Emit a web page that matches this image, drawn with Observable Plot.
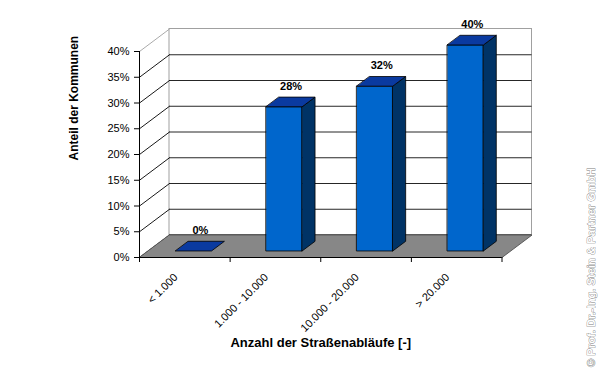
<!DOCTYPE html>
<html>
<head>
<meta charset="utf-8">
<script src="https://cdn.jsdelivr.net/npm/d3@7"></script>
<script src="https://cdn.jsdelivr.net/npm/@observablehq/plot@0.6"></script>
<style>
  html, body { margin: 0; padding: 0; background: #fff; }
  #chart { width: 600px; height: 371px; }
</style>
</head>
<body>
<div id="chart"></div>
<script>
// ---- data ----
const categories = ["< 1.000", "1.000 - 10.000", "10.000 - 20.000", "> 20.000"];
const values = [0, 28, 32, 40];
const valueLabels = ["0%", "28%", "32%", "40%"];
const yTicks = [0, 5, 10, 15, 20, 25, 30, 35, 40];
const yTickLabels = ["0%", "5%", "10%", "15%", "20%", "25%", "30%", "35%", "40%"];
const xTitle = "Anzahl der Straßenabläufe [-]";
const yTitle = "Anteil der Kommunen";
const credit = "© Prof. Dr.-Ing. Stein & Partner GmbH";

// ---- layout (pixels) ----
const W = 600, H = 371;
const plotLeft = 139, plotRight = 501.5, plotBottom = 257, plotTop = 51;
const n = categories.length;
const yMax = 40;
const bandPx = (plotRight - plotLeft) / n;
const pctPx = (plotBottom - plotTop) / yMax;
// 3D depth offset in data units
const DX = 30 / bandPx;
const DY = 22.5 / pctPx;
const BW = 36 / bandPx;      // bar width (band units)
const F0 = 0.29, F1 = 0.72;   // bar depth front/back fractions

// build polygons from the data
const faces = [];
values.forEach((v, i) => {
  const xl = i + 0.5 - BW / 2, xr = i + 0.5 + BW / 2;
  const p = (x, y, f) => ({x: x + f * DX, y: y + f * DY});
  const add = (type, pts) => pts.forEach(q => faces.push({id: type + i, type, ...q}));
  if (v > 0) {
    add("front", [p(xl, 0, F0), p(xr, 0, F0), p(xr, v, F0), p(xl, v, F0)]);
    add("side", [p(xr, 0, F0), p(xr, 0, F1), p(xr, v, F1), p(xr, v, F0)]);
  }
  add("top", [p(xl, v, F0), p(xr, v, F0), p(xr, v, F1), p(xl, v, F1)]);
});
const floorPts = [{x: 0, y: 0}, {x: n, y: 0}, {x: n + DX, y: DY}, {x: DX, y: DY}];
const labelData = values.map((v, i) => ({x: i + 0.5 + 0.52 * DX, y: v + F1 * DY, t: valueLabels[i]}));

const font = "'Liberation Sans', Arial, sans-serif";

const chart = Plot.plot({
  width: W, height: H,
  marginLeft: plotLeft, marginRight: W - plotRight, marginTop: plotTop, marginBottom: H - plotBottom,
  x: {domain: [0, n]},
  y: {domain: [0, yMax]},
  style: {fontFamily: font, fontSize: "11px", background: "#fff", color: "#000"},
  marks: [
    // back wall
    Plot.rect([0], {x1: DX, x2: n + DX, y1: DY, y2: yMax + DY, fill: "#fff", stroke: "#a0a0a0", strokeWidth: 1}),
    Plot.ruleY(yTicks.filter(d => d < yMax), {x1: DX, x2: n + DX, y: d => d + DY, stroke: "#000", strokeWidth: 1, strokeOpacity: 0.85}),
    // left wall diagonals
    Plot.link(yTicks, {x1: 0, y1: d => d, x2: DX, y2: d => d + DY, stroke: d => d === yMax ? "#a0a0a0" : "#000", strokeWidth: 0.9}),
    // floor
    Plot.line(floorPts, {x: "x", y: "y", fill: "#878787", stroke: "#5a5a5a", strokeWidth: 1, curve: "linear-closed"}),
    // bars
    Plot.line(faces.filter(f => f.type === "front"), {x: "x", y: "y", z: "id", fill: "#0066cc", stroke: "#000", strokeWidth: 0.8, curve: "linear-closed"}),
    Plot.line(faces.filter(f => f.type === "side"), {x: "x", y: "y", z: "id", fill: "#003366", stroke: "#000", strokeWidth: 0.8, curve: "linear-closed"}),
    Plot.line(faces.filter(f => f.type === "top"), {x: "x", y: "y", z: "id", fill: "#0a3aa0", stroke: "#000", strokeWidth: 0.8, curve: "linear-closed"}),
    // value labels
    Plot.text(labelData, {x: "x", y: "y", text: "t", dy: -11, fontWeight: "bold", fontSize: 11, fill: "#000"}),
    // axes
    Plot.ruleX([0], {y1: 0, y2: yMax, stroke: "#000", strokeWidth: 1}),
    Plot.ruleY([0], {x1: 0, x2: n, stroke: "#000", strokeWidth: 1}),
    Plot.axisY(yTicks, {tickSize: 5, tickPadding: 5, tickFormat: d => yTickLabels[yTicks.indexOf(d)], label: null, fontSize: 11, stroke: "#000"}),
    Plot.axisX(d3.range(n + 1), {tickSize: 5, tickFormat: () => "", label: null, stroke: "#000"}),
    Plot.text(categories, {x: (d, i) => i + 0.5, y: 0, rotate: -45, textAnchor: "end", dx: -9, dy: 18, fontSize: 11, fill: "#000"}),
    // axis titles
    Plot.text([yTitle], {frameAnchor: "left", dx: -65, dy: 6, rotate: -90, fontWeight: "bold", fontSize: 12, fill: "#000"}),
    Plot.text([xTitle], {x: n / 2, y: 0, dy: 85, fontWeight: "bold", fontSize: 13, fill: "#000"}),
    // credit
    Plot.text([credit], {frameAnchor: "top-right", textAnchor: "middle", dx: 85, dy: 216, rotate: -90, fontSize: 11.2, fontWeight: "bold", fill: "#fff", stroke: "#7a7a7a", strokeWidth: 0.7})
  ]
});
document.getElementById("chart").appendChild(chart);
</script>
</body>
</html>
